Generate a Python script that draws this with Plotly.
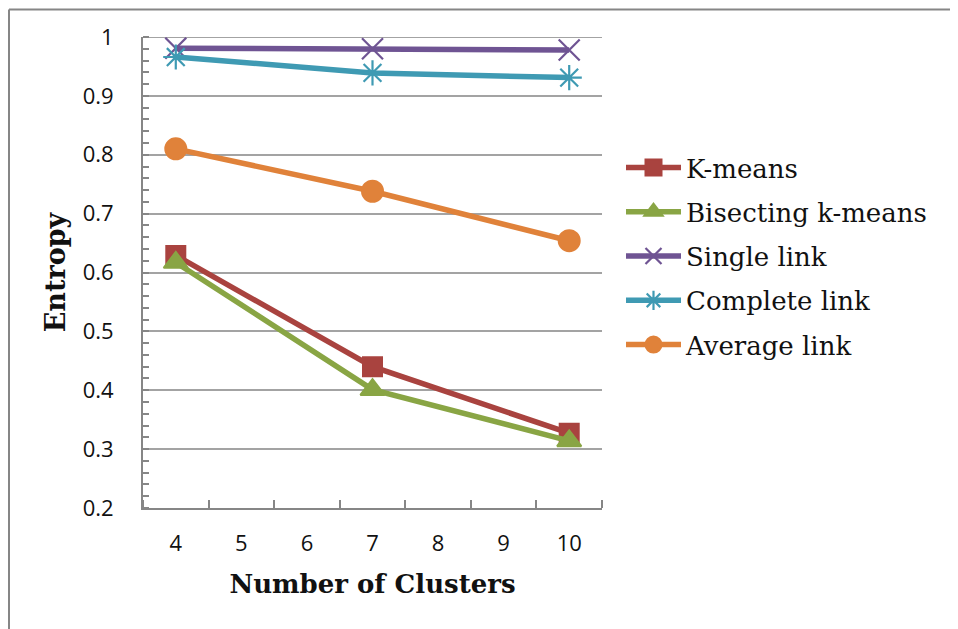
import plotly.graph_objects as go

clusters = [4, 7, 10]
kmeans = [0.629, 0.440, 0.327]
bisecting = [0.617, 0.401, 0.314]
single_link = [0.981, 0.980, 0.978]
complete_link = [0.966, 0.939, 0.931]
average_link = [0.810, 0.738, 0.654]
x_ticks = [4, 5, 6, 7, 8, 9, 10]
y_ticks = [0.2, 0.3, 0.4, 0.5, 0.6, 0.7, 0.8, 0.9, 1.0]

series = [
    ("K-means", kmeans, "#A9433F", "square", 19, 2),
    ("Bisecting k-means", bisecting, "#89A544", "triangle-up", 21, 2),
    ("Single link", single_link, "#6F5493", "x-thin-open", 21, 2.2),
    ("Complete link", complete_link, "#3F9AB3", "asterisk-open", 21, 2.2),
    ("Average link", average_link, "#E0823A", "circle", 21, 2),
]

fig = go.Figure()
for i, (name, vals, color, sym, size, lw) in enumerate(series):
    fig.add_trace(go.Scatter(
        x=clusters, y=vals, name=name, mode="lines+markers",
        legendgroup=f"g{i}",
        line=dict(color=color, width=5.5),
        marker=dict(symbol=sym, size=size, color=color,
                    line=dict(color=color, width=lw)),
    ))

OFF = 8  # page body margin
W, H = 958 - OFF, 629 - OFF
L, R, T, B = 143 - OFF, 602 - OFF, 37 - OFF, 508 - OFF

def px(v):
    return (v - OFF - L) / (R - L)

def py(v):
    return (B - (v - OFF)) / (B - T)

fig.update_layout(
    width=W, height=H,
    margin=dict(l=L, r=W - R, t=T, b=H - B),
    paper_bgcolor="white", plot_bgcolor="white",
    showlegend=True,
    legend=dict(
        x=613 / W, xref="container", y=(H - 136) / H, yref="container",
        xanchor="left", yanchor="top",
        font=dict(family="DejaVu Serif", size=26, color="#111111"),
        itemwidth=55, traceorder="grouped", tracegroupgap=7.5,
        bgcolor="rgba(0,0,0,0)",
    ),
    xaxis=dict(
        range=[3.5, 10.5], tickvals=x_ticks, ticktext=[str(v) for v in x_ticks],
        ticks="", showgrid=False, zeroline=False,
        showline=True, linecolor="#868686", linewidth=2,
        tickfont=dict(family="Open Sans", size=22, color="#111111"),
        ticklabelstandoff=15,
        minor=dict(tick0=3.5, dtick=1, ticks="inside", ticklen=8,
                   tickcolor="#868686", tickwidth=2, showgrid=False),
        title=dict(text="Number of Clusters", standoff=18,
                   font=dict(family="DejaVu Serif", size=26, color="#111111",
                             weight="bold")),
    ),
    yaxis=dict(
        range=[0.2, 1.0], tickvals=y_ticks,
        ticktext=["0.2", "0.3", "0.4", "0.5", "0.6", "0.7", "0.8", "0.9", "1"],
        ticks="", showgrid=True, gridcolor="#A3A3A3", gridwidth=1.5,
        zeroline=False, showline=True, linecolor="#868686", linewidth=2,
        tickfont=dict(family="Open Sans", size=22, color="#111111"),
        ticklabelstandoff=23,
        minor=dict(tick0=0.2, dtick=0.02, ticks="inside", ticklen=6,
                   tickcolor="#868686", tickwidth=1.5, showgrid=False),
        title=dict(text="Entropy", standoff=9,
                   font=dict(family="DejaVu Serif", size=27, color="#111111",
                             weight="bold")),
    ),
    shapes=[
        dict(type="line", xref="paper", yref="paper",
             x0=px(9), x1=px(958), y0=py(9.5), y1=py(9.5),
             line=dict(color="#868686", width=2)),
        dict(type="line", xref="paper", yref="paper",
             x0=px(9), x1=px(9), y0=py(9.5), y1=py(629),
             line=dict(color="#868686", width=2)),
        dict(type="line", xref="paper", yref="y",
             x0=0, x1=1, y0=1.0, y1=1.0, layer="below",
             line=dict(color="#A3A3A3", width=2)),
    ],
)

fig.write_html("out.html")
